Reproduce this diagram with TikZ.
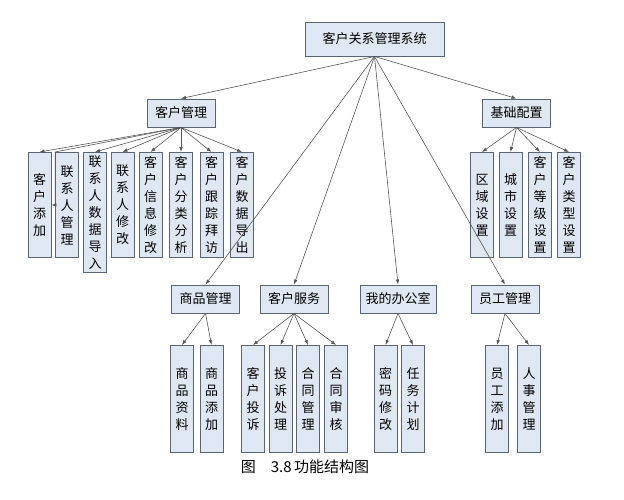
\documentclass[tikz,border=0pt]{standalone}
\usepackage{fontspec}
\setmainfont{Noto Sans CJK SC}
\usetikzlibrary{arrows.meta}
\definecolor{boxfill}{HTML}{DFE8F2}
\definecolor{boxline}{HTML}{5A6572}
\definecolor{linkgray}{HTML}{555555}

\begin{document}
\begin{tikzpicture}[
  x=1pt, y=-1pt,
  font=\fontsize{13}{17}\selectfont,
  box/.style={draw=boxline, fill=boxfill, line width=0.9pt, inner sep=2pt, align=center},
  rootbox/.style={box, minimum width=139pt, minimum height=34pt},
  mid/.style={box, minimum width=68pt, minimum height=28pt},
  leaf/.style={box, anchor=north, minimum width=23pt, minimum height=105pt, inner xsep=2pt, inner ysep=3pt},
  leafb/.style={leaf, minimum height=107pt},
  link/.style={draw=linkgray, line width=0.6pt, -{Latex[length=5pt,width=3.6pt]}},
]
\useasboundingbox (0,0) rectangle (624,500);

\node[rootbox] (root) at (374.5,39) {客户关系管理系统};

\node[mid] (khgl) at (181,113) {客户管理};
\node[mid] (jcpz) at (516.5,113) {基础配置};

\node[mid] (spgl) at (205.5,299) {商品管理};
\node[mid] (khfw) at (294,299) {客户服务};
\node[mid, minimum width=76pt] (wdbgs) at (398,299) {我的办公室};
\node[mid] (yggl) at (505,299) {员工管理};

% 客户管理
\node[leaf] (khtj) at (39.5,152) {客\\户\\添\\加};
\node[leaf] (lxgl) at (67,152) {联\\系\\人\\管\\理};
\node[leaf] (lxdr) at (95,152) {联\\系\\人\\数\\据\\导\\入};
\node[leaf] (lxxg) at (122.5,152) {联\\系\\人\\修\\改};
\node[leaf] (xxxg) at (150.5,152) {客\\户\\信\\息\\修\\改};
\node[leaf] (flfx) at (181,152) {客\\户\\分\\类\\分\\析};
\node[leaf] (gzbf) at (211.5,152) {客\\户\\跟\\踪\\拜\\访};
\node[leaf] (sjdc) at (242,152) {客\\户\\数\\据\\导\\出};

% 基础配置
\node[leaf] (qysz) at (482,152) {区\\域\\设\\置};
\node[leaf] (cssz) at (510.5,152) {城\\市\\设\\置};
\node[leaf] (djsz) at (540,152) {客\\户\\等\\级\\设\\置};
\node[leaf] (lxsz) at (569,152) {客\\户\\类\\型\\设\\置};

% second row
\node[leafb] (spzl) at (182,345) {商\\品\\资\\料};
\node[leafb] (sptj) at (211.5,345) {商\\品\\添\\加};
\node[leafb] (khts) at (253,345) {客\\户\\投\\诉};
\node[leafb] (tscl) at (280.5,345) {投\\诉\\处\\理};
\node[leafb] (htgl) at (308,345) {合\\同\\管\\理};
\node[leafb] (htsh) at (336,345) {合\\同\\审\\核};
\node[leafb] (mmxg) at (385.5,345) {密\\码\\修\\改};
\node[leafb] (rwjh) at (413,345) {任\\务\\计\\划};
\node[leafb] (ygtj) at (497,345) {员\\工\\添\\加};
\node[leafb] (rsgl) at (529,345) {人\\事\\管\\理};

\node[font=\fontsize{15}{17}\selectfont] (cap) at (305,467) {图\quad 3.8\,功能结构图};

% connectors
\draw[link] (root.south) -- (khgl.north);
\draw[link] (root.south) -- (jcpz.north);
\draw[link] (root.south) -- (spgl.north);
\draw[link] (root.south) -- (khfw.north);
\draw[link] (root.south) -- (wdbgs.north);
\draw[link] (root.south) -- (yggl.north);

\draw[link] (khgl.south) -- (khtj.north);
\draw[link] (khgl.south) -- (lxgl.north west) |- (khtj.east);
\draw[link] (khgl.south) -- (lxdr.north);
\draw[link] (khgl.south) -- (lxxg.north);
\draw[link] (khgl.south) -- (xxxg.north);
\draw[link] (khgl.south) -- (flfx.north);
\draw[link] (khgl.south) -- (gzbf.north);
\draw[link] (khgl.south) -- (sjdc.north);

\draw[link] (jcpz.south) -- (qysz.north);
\draw[link] (jcpz.south) -- (cssz.north);
\draw[link] (jcpz.south) -- (djsz.north);
\draw[link] (jcpz.south) -- (lxsz.north);

\draw[link] (spgl.south) -- (spzl.north);
\draw[link] (spgl.south) -- (sptj.north);
\draw[link] (khfw.south) -- (khts.north);
\draw[link] (khfw.south) -- (tscl.north);
\draw[link] (khfw.south) -- (htgl.north);
\draw[link] (khfw.south) -- (htsh.north);
\draw[link] (wdbgs.south) -- (mmxg.north);
\draw[link] (wdbgs.south) -- (rwjh.north);
\draw[link] (yggl.south) -- (ygtj.north);
\draw[link] (yggl.south) -- (rsgl.north);
\end{tikzpicture}
\end{document}
